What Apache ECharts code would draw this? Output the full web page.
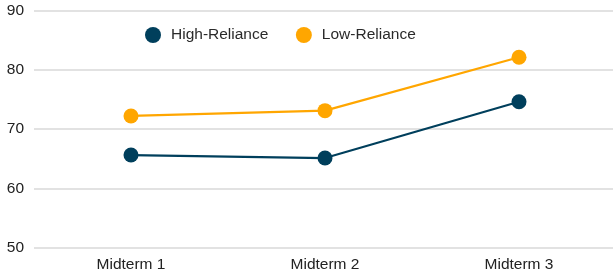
<!DOCTYPE html>
<html>
<head>
<meta charset="utf-8">
<script src="https://cdn.jsdelivr.net/npm/echarts@6/dist/echarts.min.js"></script>
<style>
  html, body { margin: 0; padding: 0; background: #fff; }
  #chart { width: 613px; height: 273px; }
</style>
</head>
<body>
<div id="chart"></div>
<script>
// categories & series values
const categories = ['Midterm 1', 'Midterm 2', 'Midterm 3'];
const highReliance = [65.6, 65.1, 74.6];
const lowReliance = [72.2, 73.1, 82.1];
const yTicks = [50, 60, 70, 80, 90];

const chart = echarts.init(document.getElementById('chart'));

const option = {
  animation: false,
  textStyle: { fontFamily: 'Liberation Sans, Arial, sans-serif' },
  legend: {
    top: 27,
    left: 145,
    padding: 0,
    itemWidth: 16,
    itemHeight: 16,
    itemGap: 27.5,
    icon: 'circle',
    textStyle: { fontSize: 15.5, color: '#2a2a2a', padding: [0, 0, 0, 5] },
    data: ['High-Reliance', 'Low-Reliance']
  },
  grid: {
    left: 34,
    top: 10.5,
    width: 582,
    bottom: 25.5,
    outerBoundsMode: 'none'
  },
  xAxis: {
    type: 'category',
    data: categories,
    axisLine: { show: false },
    axisTick: { show: false },
    axisLabel: { color: '#222', fontSize: 15.5, margin: 9.5 }
  },
  yAxis: {
    type: 'value',
    min: yTicks[0],
    max: yTicks[yTicks.length - 1],
    interval: 10,
    axisLine: { show: false },
    axisTick: { show: false },
    splitLine: { lineStyle: { color: '#d9d9d9', width: 1.5 } },
    axisLabel: { color: '#222', fontSize: 15.5, margin: 10 }
  },
  series: [
    {
      name: 'High-Reliance',
      type: 'line',
      data: highReliance,
      symbol: 'circle',
      symbolSize: 15,
      color: '#003f5c',
      lineStyle: { width: 2.2 }
    },
    {
      name: 'Low-Reliance',
      type: 'line',
      data: lowReliance,
      symbol: 'circle',
      symbolSize: 15,
      color: '#ffa600',
      lineStyle: { width: 2.2 }
    }
  ]
};

chart.setOption(option);
</script>
</body>
</html>
